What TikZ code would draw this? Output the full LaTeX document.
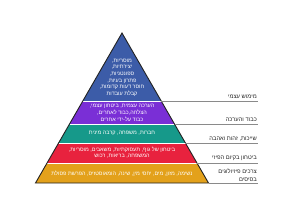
\documentclass[tikz,border=0pt]{standalone}
\usepackage{fontspec}
\setmainfont{Liberation Sans}
\newfontfamily\heb[Script=Hebrew]{Liberation Sans}
\TeXXeTstate=1
\newcommand\hebl[1]{\beginR #1\endR}
\definecolor{cblue}{HTML}{3C5CA8}
\definecolor{cpurple}{HTML}{7A2FD6}
\definecolor{cteal}{HTML}{16998A}
\definecolor{cred}{HTML}{E8223E}
\definecolor{corange}{HTML}{E3A11B}
\definecolor{cline}{HTML}{8A8A8A}
\definecolor{coutline}{HTML}{222222}
\tikzset{
  layer/.style={draw=white, line width=0.4pt},
  intxt/.style={text=white, font=\heb\fontsize{5.5}{6.7}\selectfont, align=center, inner sep=0pt},
  lbl/.style={font=\heb\fontsize{5.8}{7.4}\selectfont, align=right, anchor=south east, inner sep=0pt, text=black!85},
  tickline/.style={draw=cline, line width=0.9pt},
}
\begin{document}
\begin{tikzpicture}[x=1pt,y=-1pt]
\useasboundingbox[fill=white] (0,0) rectangle (300,215);
% pyramid corners
\coordinate (apex) at (122,33);
\coordinate (l1) at (82.8,101);  \coordinate (r1) at (161.2,101);
\coordinate (l2) at (69.5,124);  \coordinate (r2) at (174.5,124);
\coordinate (l3) at (58.6,143);  \coordinate (r3) at (185.4,143);
\coordinate (l4) at (47.0,163);  \coordinate (r4) at (197.0,163);
\coordinate (l5) at (35.5,183);  \coordinate (r5) at (208.5,183);
% layers
\fill[cblue]   (apex) -- (r1) -- (l1) -- cycle;
\fill[cpurple] (l1) -- (r1) -- (r2) -- (l2) -- cycle;
\fill[cteal]   (l2) -- (r2) -- (r3) -- (l3) -- cycle;
\fill[cred]    (l3) -- (r3) -- (r4) -- (l4) -- cycle;
\fill[corange] (l4) -- (r4) -- (r5) -- (l5) -- cycle;
\draw[white, line width=0.5pt] (l1) -- (r1) (l2) -- (r2) (l3) -- (r3) (l4) -- (r4);
\draw[coutline, line width=0.9pt, line join=miter] (apex) -- (l5) -- (r5) -- cycle;
% texts inside
\node[intxt] (t1) at (122,77.6) {\hebl{מוסריות,}\\\hebl{יצירתיות,}\\\hebl{ספונטניות,}\\\hebl{פתרון בעיות,}\\\hebl{חוסר דעות קדומות,}\\\hebl{קבלת עובדות}};
\node[intxt] (t2) at (122,113) {\hebl{הערכה עצמית, ביטחון עצמי,}\\\hebl{הצלחה,כבוד לאחרים,}\\\hebl{כבוד על-ידי אחרים}};
\node[intxt] (t3) at (122,133.5) {\hebl{חברות, משפחה, קרבה מינית}};
\node[intxt] (t4) at (122,152.7) {\hebl{ביטחון של גוף, תעסוקתיות, משאבים, מוסריות,}\\\hebl{המשפחה, בריאות, רכוש}};
\node[intxt] (t5) at (122,173.3) {\hebl{נשימה, מזון, מים, יחסי מין, שינה, הומאוסטזיס, הפרשת פסולת}};
% side lines
\coordinate (e1) at (258,101);
\coordinate (e2) at (258,124);
\coordinate (e3) at (258,143);
\coordinate (e4) at (258,163);
\coordinate (e5) at (258,183);
\draw[tickline] (r1) -- (e1);
\draw[tickline] (r2) -- (e2);
\draw[tickline] (r3) -- (e3);
\draw[tickline] (r4) -- (e4);
\draw[tickline] (r5) -- (e5);
% labels
\node[lbl] (n1) at (257,99) {\hebl{מימוש עצמי}};
\node[lbl] (n2) at (257,122) {\hebl{כבוד והערכה}};
\node[lbl] (n3) at (257,141) {\hebl{שייכות, זהות ואהבה}};
\node[lbl] (n4) at (257,161) {\hebl{ביטחון בקיום הפיזי}};
\node[lbl] (n5) at (257,181.5) {\hebl{צרכים פיזיולוגים}\\\hebl{בסיסים}};
\end{tikzpicture}
\end{document}
